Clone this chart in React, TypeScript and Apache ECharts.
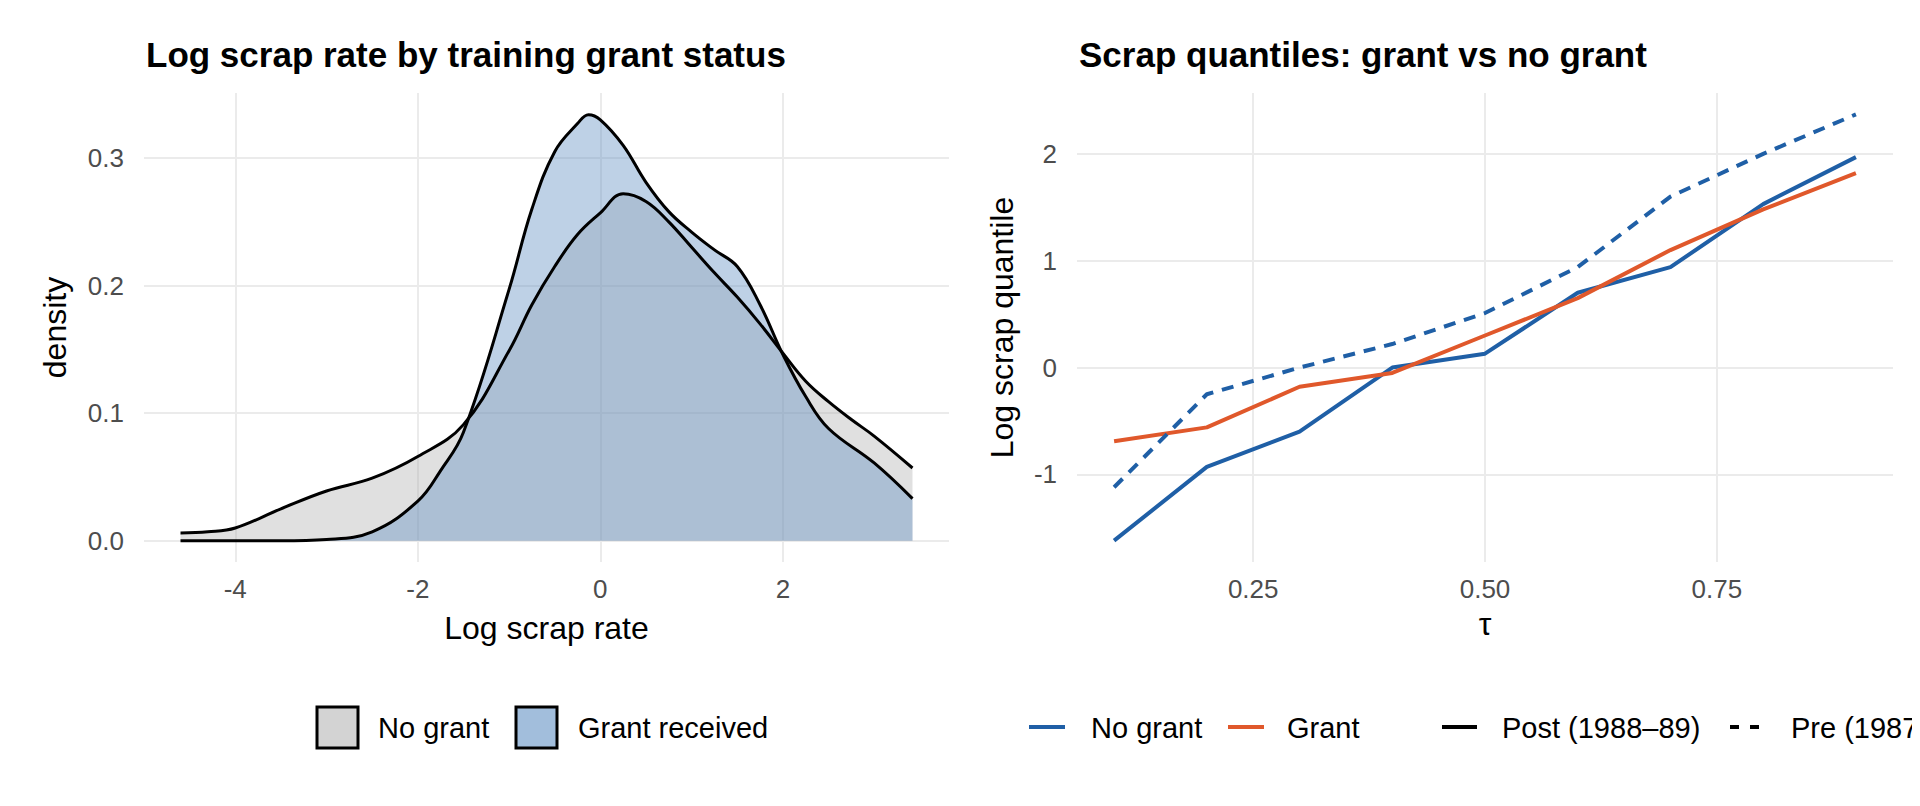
import * as echarts from "echarts";
import { useEffect, useRef } from "react";

// left panel: kernel densities of log scrap rate
const noGrantX = [-4.6, -4.3, -4, -3.5, -3, -2.5, -2, -1.5, -1, -0.75, -0.5, -0.25, 0, 0.25, 0.5, 0.75, 1, 1.25, 1.5, 1.75, 2, 2.25, 2.5, 2.75, 3, 3.42];
const noGrantY = [0.006, 0.007, 0.01, 0.025, 0.039, 0.049, 0.066, 0.091, 0.149, 0.185, 0.215, 0.24, 0.257, 0.272, 0.266, 0.25, 0.23, 0.21, 0.191, 0.17, 0.147, 0.125, 0.109, 0.095, 0.082, 0.057];
const grantX = [-4.6, -3.5, -3, -2.5, -2, -1.75, -1.5, -1, -0.75, -0.5, -0.25, -0.13, 0, 0.25, 0.5, 0.75, 1, 1.25, 1.5, 1.75, 2, 2.25, 2.5, 3, 3.42];
const grantY = [0.0, 0.0, 0.001, 0.007, 0.031, 0.055, 0.085, 0.197, 0.26, 0.305, 0.327, 0.334, 0.33, 0.31, 0.281, 0.258, 0.242, 0.228, 0.215, 0.185, 0.146, 0.113, 0.088, 0.061, 0.033];
const densityTicksX = [-4, -2, 0, 2];
const densityTicksY = [0, 0.1, 0.2, 0.3];

// right panel: quantiles
const taus = [0.1, 0.2, 0.3, 0.4, 0.5, 0.6, 0.7, 0.8, 0.9];
const noGrantPost = [-1.62, -0.93, -0.6, 0.0, 0.13, 0.7, 0.94, 1.53, 1.97];
const grantPost = [-0.69, -0.56, -0.18, -0.05, 0.3, 0.65, 1.1, 1.48, 1.82];
const noGrantPre = [-1.12, -0.25, 0.0, 0.22, 0.51, 0.94, 1.6, 2.0, 2.37];
const tauTicks = [0.25, 0.5, 0.75];
const quantTicks = [-1, 0, 1, 2];

const FONT = "Liberation Sans";
const BLUE = "#1f5fa6";
const ORANGE = "#e0582b";
const GRAY_FILL = "rgba(167,167,167,0.5)";
const BLUE_FILL = "rgba(100,146,196,0.6)";
const gridLine = { show: true, lineStyle: { color: "#ebebeb", width: 2 } };
const tickLabel = { color: "#4d4d4d", fontSize: 26, fontFamily: FONT };
const axisName = { color: "#000", fontSize: 32, fontFamily: FONT };
const legendText = { fontSize: 29, fontFamily: FONT, fill: "#000", verticalAlign: "middle" };

function zip(xs: number[], ys: number[]) {
  return xs.map((x, i) => [x, ys[i]]);
}

export default function App() {
  const ref = useRef<HTMLDivElement>(null);

  useEffect(() => {
    const chart = echarts.init(ref.current, null, { renderer: "svg" });
    const titleStyle = { fontSize: 35, fontWeight: "bold", fontFamily: FONT, color: "#000" };
    const option = {
      animation: false,
      backgroundColor: "#fff",
      title: [
        { text: "Log scrap rate by training grant status", left: 141, top: 32, textStyle: titleStyle },
        { text: "Scrap quantiles: grant vs no grant", left: 1074, top: 32, textStyle: titleStyle },
      ],
      grid: [
        { left: 144, right: 971, top: 93, bottom: 244 },
        { left: 1077, right: 27, top: 93, bottom: 244 },
      ],
      xAxis: [
        {
          gridIndex: 0, type: "value", min: -5.0, max: 3.82,
          axisLine: { show: false }, axisTick: { show: false, customValues: densityTicksX },
          axisLabel: { ...tickLabel, margin: 14, customValues: densityTicksX }, splitLine: gridLine,
          name: "Log scrap rate", nameLocation: "middle", nameGap: 50, nameTextStyle: axisName,
        },
        {
          gridIndex: 1, type: "value", min: 0.06, max: 0.94,
          axisLine: { show: false }, axisTick: { show: false, customValues: tauTicks },
          axisLabel: { ...tickLabel, margin: 14, customValues: tauTicks, formatter: (v: number) => v.toFixed(2) }, splitLine: gridLine,
          name: "τ", nameLocation: "middle", nameGap: 46, nameTextStyle: axisName,
        },
      ],
      yAxis: [
        {
          gridIndex: 0, type: "value", min: -0.0167, max: 0.351,
          axisLine: { show: false }, axisTick: { show: false, customValues: densityTicksY },
          axisLabel: { ...tickLabel, margin: 20, customValues: densityTicksY, formatter: (v: number) => v.toFixed(1) }, splitLine: gridLine,
          name: "density", nameLocation: "middle", nameGap: 73, nameTextStyle: axisName,
        },
        {
          gridIndex: 1, type: "value", min: -1.82, max: 2.57,
          axisLine: { show: false }, axisTick: { show: false, customValues: quantTicks },
          axisLabel: { ...tickLabel, margin: 20, customValues: quantTicks }, splitLine: gridLine,
          name: "Log scrap quantile", nameLocation: "middle", nameGap: 59, nameTextStyle: axisName,
        },
      ],
      series: [
        {
          type: "line", xAxisIndex: 0, yAxisIndex: 0, smooth: 0.4, showSymbol: false,
          data: zip(noGrantX, noGrantY),
          lineStyle: { color: "#000", width: 3 },
          areaStyle: { color: GRAY_FILL, origin: 0 },
        },
        {
          type: "line", xAxisIndex: 0, yAxisIndex: 0, smooth: 0.4, showSymbol: false,
          data: zip(grantX, grantY),
          lineStyle: { color: "#000", width: 3 },
          areaStyle: { color: BLUE_FILL, origin: 0 },
        },
        {
          type: "line", xAxisIndex: 1, yAxisIndex: 1, showSymbol: false,
          data: zip(taus, noGrantPost), lineStyle: { color: BLUE, width: 4 },
        },
        {
          type: "line", xAxisIndex: 1, yAxisIndex: 1, showSymbol: false,
          data: zip(taus, grantPost), lineStyle: { color: ORANGE, width: 4 },
        },
        {
          type: "line", xAxisIndex: 1, yAxisIndex: 1, showSymbol: false,
          data: zip(taus, noGrantPre), lineStyle: { color: BLUE, width: 4, type: [12, 9] },
        },
      ],
      graphic: [
        // left legend
        { type: "rect", shape: { x: 317, y: 707, width: 41, height: 41 }, style: { fill: GRAY_FILL, stroke: "#000", lineWidth: 3 } },
        { type: "text", x: 378, y: 728, style: { text: "No grant", ...legendText } },
        { type: "rect", shape: { x: 516, y: 707, width: 41, height: 41 }, style: { fill: BLUE_FILL, stroke: "#000", lineWidth: 3 } },
        { type: "text", x: 578, y: 728, style: { text: "Grant received", ...legendText } },
        // right legend
        { type: "line", shape: { x1: 1029, y1: 727, x2: 1065, y2: 727 }, style: { stroke: BLUE, lineWidth: 4 } },
        { type: "text", x: 1091, y: 728, style: { text: "No grant", ...legendText } },
        { type: "line", shape: { x1: 1228, y1: 727, x2: 1264, y2: 727 }, style: { stroke: ORANGE, lineWidth: 4 } },
        { type: "text", x: 1287, y: 728, style: { text: "Grant", ...legendText } },
        { type: "line", shape: { x1: 1442, y1: 727, x2: 1477, y2: 727 }, style: { stroke: "#000", lineWidth: 4 } },
        { type: "text", x: 1502, y: 728, style: { text: "Post (1988–89)", ...legendText } },
        { type: "line", shape: { x1: 1730, y1: 727, x2: 1762, y2: 727 }, style: { stroke: "#000", lineWidth: 4, lineDash: [9, 11] } },
        { type: "text", x: 1791, y: 728, style: { text: "Pre (1987)", ...legendText } },
      ],
    };
    chart.setOption(option);
    return () => chart.dispose();
  }, []);

  return <div ref={ref} style={{ width: 1920, height: 806, margin: -8 }} />;
}
